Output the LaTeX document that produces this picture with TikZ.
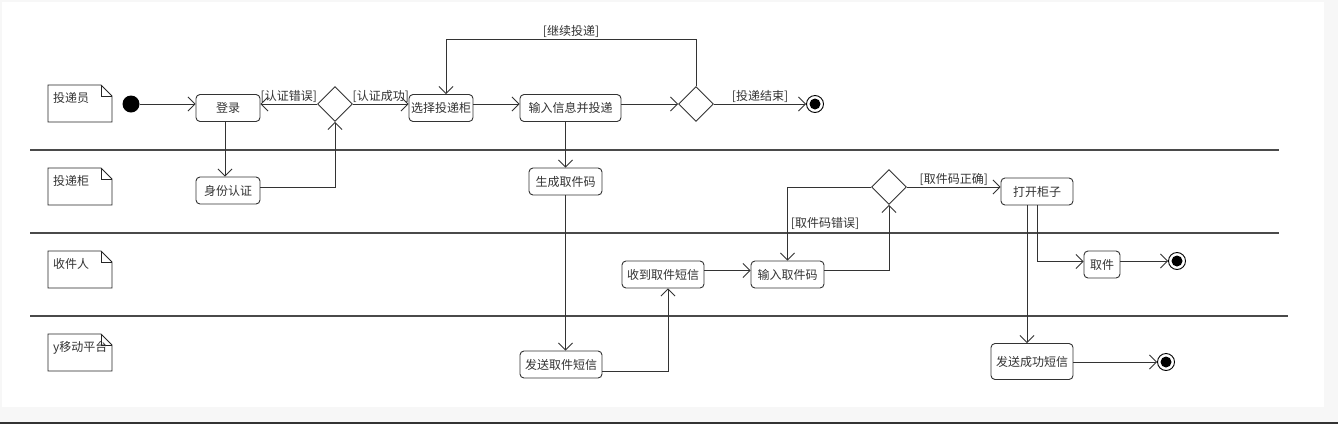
\documentclass[tikz,border=0pt]{standalone}
\usepackage{fontspec}
\newfontfamily\cjk{Noto Sans CJK SC}
\usetikzlibrary{arrows.meta,shapes.geometric,calc}
\definecolor{linec}{HTML}{333333}
\definecolor{lanec}{HTML}{4A4A4A}
\definecolor{textc}{HTML}{333333}
\definecolor{bgc}{HTML}{F7F7F7}
\begin{document}
\begin{tikzpicture}[x=1pt,y=-1pt,font=\cjk\fontsize{12}{14}\selectfont,
  act/.style={draw=linec, line width=0.9pt, rounded corners=4pt, minimum height=27pt, inner sep=1pt, text=textc},
  dec/.style={diamond, draw=linec, line width=0.9pt, minimum width=35pt, minimum height=35pt, inner sep=0pt},
  initn/.style={circle, fill=black, minimum size=17pt, inner sep=0pt},
  fin/.style={circle, draw=black, line width=0.9pt, minimum size=17pt, inner sep=0pt,
    path picture={\fill[black] (path picture bounding box.center) circle (5.5pt);}},
  flow/.style={draw=linec, line width=0.9pt, -{Straight Barb[length=7pt,width=14pt]}},
  lane/.style={draw=lanec, line width=2pt},
  guard/.style={text=textc, inner sep=1pt},
  notebox/.style={draw=black!85, line width=0.9pt}]
\useasboundingbox (0,0) rectangle (1338,424);
\fill[bgc] (0,0) rectangle (1338,424);
\fill[white] (2,2) rectangle (1324,407);
\draw[black!80, line width=1.5pt] (0,423) -- (1338,423);

% lanes
\draw[lane] (30,150) -- (1279,150);
\draw[lane] (30,233) -- (1279,233);
\draw[lane] (30,316) -- (1288,316);

\foreach \yy/\t in {85/投递员,168/投递柜,251/收件人,334/y移动平台}{
  \draw[notebox] (48,\yy) -- (101,\yy) -- (112,\yy+11) -- (112,\yy+37) -- (48,\yy+37) -- cycle;
  \draw[notebox] (101,\yy) -- (101,\yy+11) -- (112,\yy+11);
  \node[anchor=north west, inner sep=0pt, text=textc] at (53,\yy+7) {\t};
}

% nodes
\node[initn] (init) at (131,104) {};
\node[act, minimum width=64pt] (login) at (228,108) {登录};
\node[dec] (d1) at (335,104) {};
\node[act, minimum width=64pt] (sel) at (441,108) {选择投递柜};
\node[act, minimum width=101pt] (inp) at (570.5,108) {输入信息并投递};
\node[dec] (d2) at (696,104) {};
\node[fin] (f1) at (815,104) {};
\node[act, minimum width=64pt] (auth) at (228,190.5) {身份认证};
\node[act, minimum width=73pt] (gen) at (565.5,181.5) {生成取件码};
\node[dec] (d3) at (889,187) {};
\node[act, minimum width=72pt] (open) at (1037,191.5) {打开柜子};
\node[act, minimum width=82pt] (recv) at (663,274.5) {收到取件短信};
\node[act, minimum width=73pt] (code) at (787.5,274.5) {输入取件码};
\node[act, minimum width=36pt] (take) at (1102,264.5) {取件};
\node[fin] (f2) at (1177,261) {};
\node[act, minimum width=82pt] (sms1) at (561,364.5) {发送取件短信};
\node[act, minimum width=82pt, minimum height=36pt] (succ) at (1032,361.5) {发送成功短信};
\node[fin] (f3) at (1166,362) {};
\coordinate (lp) at (446,39);

% connectors
\draw[flow] (init.east) -- (init -| login.west);
\draw[flow] (d1.west) -- node[above, guard] {[认证错误]} (d1 -| login.east);
\draw[flow] (d1.east) -- node[above, guard] {[认证成功]} (d1 -| sel.west);
\draw[flow] ([xshift=-3pt]login.south) -- ([xshift=-3pt]auth.north);
\draw[flow] ([yshift=3pt]auth.east) -| (d1.south);
\draw[flow] (sel.east |- d1) -- (d1 -| inp.west);
\draw[flow] (inp.east |- d2) -- (d2.west);
\draw[flow] (d2.north) |- node[pos=0.75, above, guard] {[继续投递]} (lp) -- (lp |- sel.north);
\draw[flow] (d2.east) -- node[above, guard] {[投递结束]} (f1.west);
\draw[flow] (inp.south -| gen.north) -- (gen.north);
\draw[flow] (gen.south) -- (gen.south |- sms1.north);
\draw[flow] ([yshift=-7pt]sms1.east) -| ([xshift=5pt]recv.south);
\draw[flow] ([yshift=4pt]recv.east) -- ([yshift=4pt]code.west);
\draw[flow] ([yshift=4pt]code.east) -| (d3.south);
\draw[flow] (d3.west) -| node[pos=0.75, anchor=west, guard, inner sep=3pt] {[取件码错误]} (code.north);
\draw[flow] (d3.east) -- node[above, guard] {[取件码正确]} (d3 -| open.west);
\draw[flow] (open.south) |- ([yshift=3pt]take.west);
\draw[flow] (take.east |- f2) -- (f2.west);
\draw[flow] ([xshift=-10pt]open.south) -- ([xshift=-10pt]open.south |- succ.north);
\draw[flow] (succ.east |- f3) -- (f3.west);
\end{tikzpicture}
\end{document}
